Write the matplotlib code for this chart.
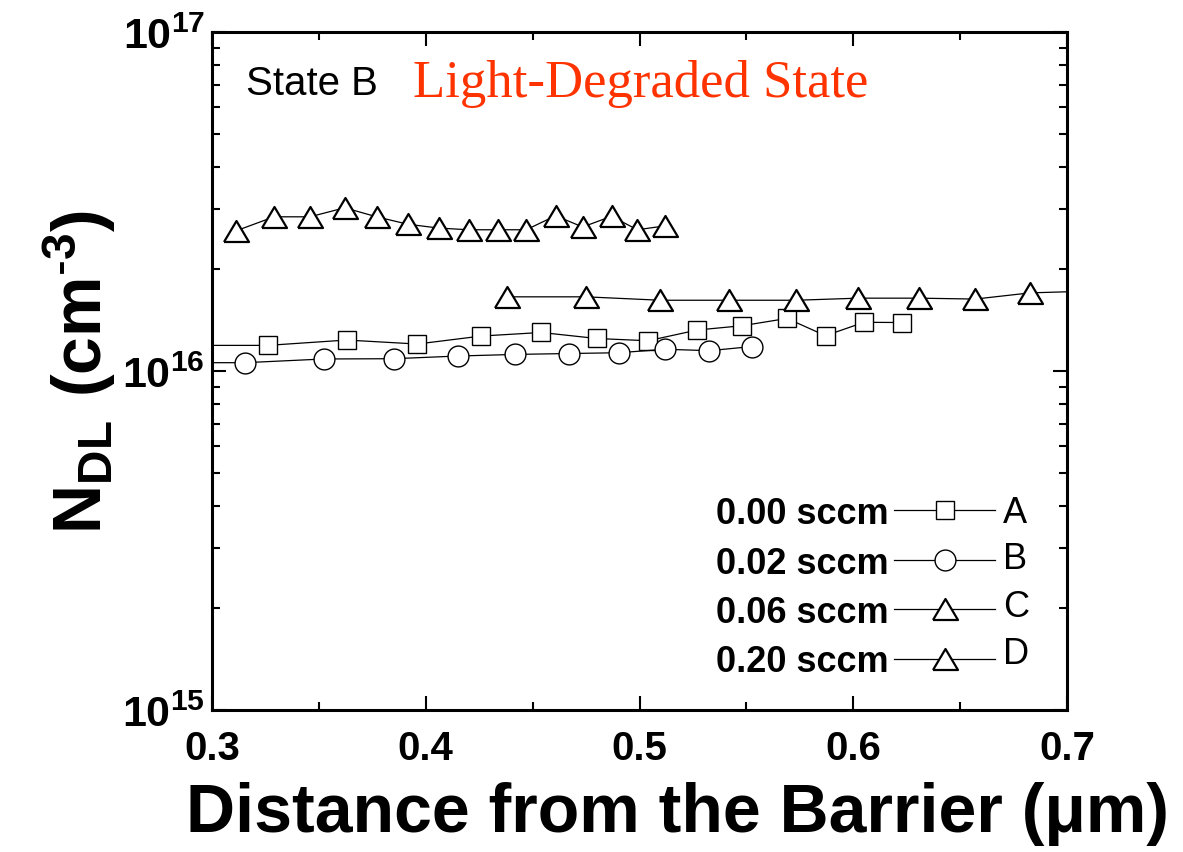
import matplotlib
matplotlib.use("Agg")
import matplotlib.pyplot as plt
import numpy as np
from matplotlib.ticker import LogLocator, FixedLocator, NullFormatter, FuncFormatter

plt.rcParams["font.family"] = ["Liberation Sans", "DejaVu Sans"]
plt.rcParams["mathtext.fontset"] = "custom"
plt.rcParams["mathtext.rm"] = "Liberation Sans"
plt.rcParams["mathtext.bf"] = "Liberation Sans:bold"

# Data (x in um, N_DL in 1e16 cm^-3)
xA = [0.290, 0.326, 0.363, 0.396, 0.426, 0.454, 0.480, 0.504, 0.527, 0.548, 0.569, 0.587, 0.605, 0.623]
yA = [1.19, 1.19, 1.234, 1.201, 1.268, 1.299, 1.247, 1.228, 1.321, 1.360, 1.429, 1.271, 1.392, 1.390]

xB = [0.290, 0.3154, 0.3523, 0.385, 0.415, 0.4416, 0.4668, 0.4902, 0.5121, 0.5327, 0.5528]
yB = [1.058, 1.058, 1.085, 1.087, 1.107, 1.119, 1.126, 1.132, 1.159, 1.148, 1.181]

xC = [0.3112, 0.329, 0.3458, 0.3621, 0.377, 0.3916, 0.406, 0.420, 0.4336, 0.447,
      0.4607, 0.4734, 0.4869, 0.499, 0.512]
yC = [2.59, 2.85, 2.85, 3.03, 2.85, 2.71, 2.64, 2.61, 2.61, 2.61, 2.87, 2.66, 2.86, 2.61, 2.68]

xD = [0.4379, 0.4748, 0.5098, 0.542, 0.5734, 0.6023, 0.6308, 0.657, 0.6827, 0.710]
yD = [1.655, 1.655, 1.617, 1.617, 1.617, 1.640, 1.640, 1.630, 1.700, 1.720]

labels = ["0.00 sccm", "0.02 sccm", "0.06 sccm", "0.20 sccm"]
letters = ["A", "B", "C", "D"]

tri = np.array([[-1, -0.84], [1, -0.84], [0, 0.84], [-1, -0.84]])

fig = plt.figure(figsize=(11.83, 8.53), dpi=100)
ax = fig.add_axes([0.1792, 0.1665, 0.7228, 0.7948])

ax.plot(xA, np.array(yA) * 1e16, "-", color="black", lw=0.9, marker="s", ms=13.5,
        mfc="white", mec="black", mew=1.0, label=labels[0])
ax.plot(xB, np.array(yB) * 1e16, "-", color="black", lw=0.9, marker="o", ms=15,
        mfc="white", mec="black", mew=1.0, label=labels[1])
ax.plot(xC, np.array(yC) * 1e16, "-", color="black", lw=0.9, marker=tri, ms=18,
        mfc="white", mec="black", mew=1.6, label=labels[2])
ax.plot(xD, np.array(yD) * 1e16, "-", color="black", lw=0.9, marker=tri, ms=18,
        mfc="white", mec="black", mew=1.6, label=labels[3])

ax.set_yscale("log")
ax.set_xlim(0.3, 0.7)
ax.set_ylim(1e15, 1e17)

ax.xaxis.set_major_locator(FixedLocator([0.3, 0.4, 0.5, 0.6, 0.7]))
ax.xaxis.set_minor_locator(FixedLocator([0.35, 0.45, 0.55, 0.65]))
ax.xaxis.set_major_formatter(FuncFormatter(lambda v, p: f"{v:.1f}"))
ax.yaxis.set_major_locator(LogLocator(base=10, numticks=10))
ax.yaxis.set_minor_locator(LogLocator(base=10, subs=np.arange(2, 10), numticks=20))
ax.yaxis.set_minor_formatter(NullFormatter())
ax.yaxis.set_major_formatter(FuncFormatter(lambda v, p: r"$\mathbf{10^{%d}}$" % round(np.log10(v))))

ax.tick_params(which="both", direction="in", top=True, right=True, width=1.5)
ax.tick_params(which="major", length=10)
ax.tick_params(which="minor", length=6)
ax.tick_params(axis="x", labelsize=29, pad=14)
ax.tick_params(axis="y", labelsize=31, pad=5)
for t in ax.get_xticklabels():
    t.set_fontweight("bold")
for s in ax.spines.values():
    s.set_linewidth(2.2)

ax.set_xlabel("Distance from the Barrier (\u03bcm)", fontsize=49, fontweight="bold")
ax.xaxis.set_label_coords(0.544, -0.105)
ax.set_ylabel(r"$\mathbf{N_{DL}\ (cm^{\text{-}3})}$", fontsize=49)
ax.yaxis.set_label_coords(-0.11, 0.5)

ax.text(0.04, 0.925, "State B", transform=ax.transAxes, fontsize=29, va="center", ha="left")
ax.text(0.235, 0.925, "Light-Degraded State", transform=ax.transAxes, fontsize=38,
        color="#FF3300", family=["Liberation Serif", "DejaVu Serif"], va="center", ha="left")

leg = ax.legend(loc="lower right", bbox_to_anchor=(0.916, 0.045), frameon=False,
                markerfirst=False, handlelength=2.8, handletextpad=0.15,
                labelspacing=0.4, borderpad=0, borderaxespad=0,
                prop={"weight": "bold", "size": 26})

row_y = [0.292, 0.2227, 0.153, 0.0826]
for letter, yy in zip(letters, row_y):
    ax.text(0.925, yy, letter, transform=ax.transAxes, fontsize=26, va="center", ha="left")

fig.savefig("out.png", dpi=100)
